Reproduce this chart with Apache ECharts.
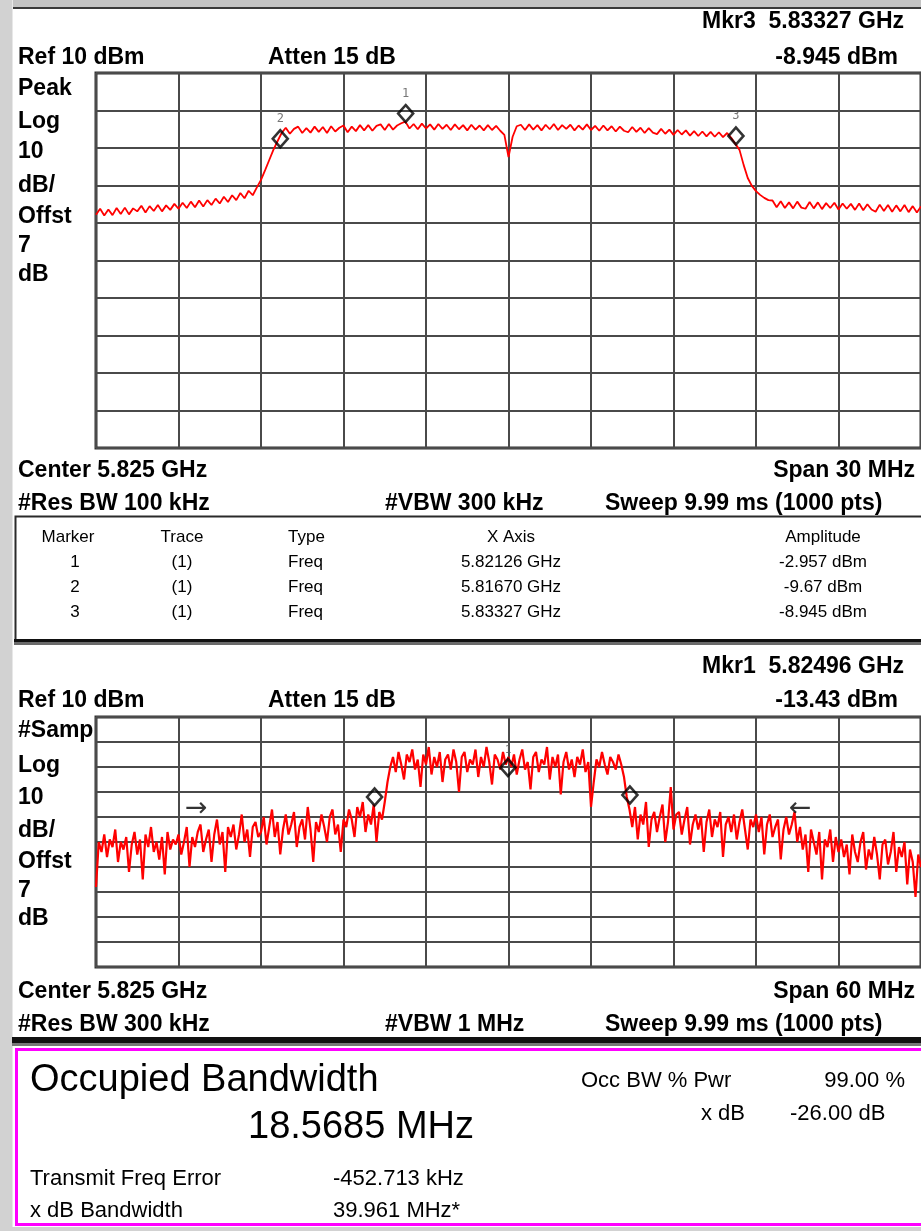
<!DOCTYPE html>
<html><head><meta charset="utf-8">
<script src="https://cdn.jsdelivr.net/npm/echarts@6/dist/echarts.min.js"></script>
<style>html,body{margin:0;padding:0;background:#fff;overflow:hidden}#c{width:921px;height:1231px}</style>
</head><body><div id="c"></div>
<script>
// ---------- DATA ----------
const CENTER_MHZ = 5825;
// upper trace: span 30 MHz, 5810..5840 MHz, step 0.15 MHz (dBm)
const TOP_START_MHZ = 5810, TOP_STEP_MHZ = 0.15;
const topTrace = [
-27.8,-26.2,-28.0,-26.4,-27.9,-26.0,-27.6,-25.9,-27.7,-26.1,
-26.9,-25.4,-27.2,-25.5,-26.8,-25.2,-26.9,-25.3,-26.5,-24.9,
-26.2,-24.6,-26.0,-24.3,-25.8,-24.0,-25.6,-23.9,-25.2,-23.5,
-24.8,-23.0,-24.4,-22.6,-23.9,-22.0,-23.4,-21.4,-22.6,
-20.5,-18.5,-15.9,-13.2,-10.5,-8.2,
-6.0,-4.6,-6.2,-4.9,-4.3,-6.0,-4.7,-5.9,-4.3,-5.7,
-4.4,-6.0,-4.2,-5.6,-4.6,-4.0,-5.8,-4.3,-5.5,-3.9,
-5.3,-3.9,-5.4,-4.1,-3.7,-5.2,-3.6,-5.1,-4.0,-3.4,
-2.96,
-4.8,-3.6,-5.0,-3.5,-4.8,-3.7,-5.1,-3.6,-4.9,
-3.8,-5.2,-3.7,-5.0,-3.9,-5.3,-3.8,-5.1,-4.0,-5.3,
-3.9,-5.2,-4.1,-5.4,-6.5,
-12.4,
-7.0,-4.2,-3.8,-5.2,
-3.7,-5.1,-3.9,-5.3,-3.8,-5.0,-3.6,-5.2,-3.9,-4.9,
-3.8,-5.3,-4.0,-5.1,-3.7,-5.2,-4.1,-5.4,-4.0,-5.3,
-4.2,-5.6,-4.3,-5.4,-5.8,-4.4,-5.7,-4.6,-6.0,-4.7,
-5.9,-6.3,-4.9,-6.2,-5.1,-6.5,-5.2,-6.4,-5.3,-6.7,
-5.5,-6.8,-5.6,-6.9,-5.7,-7.0,-5.8,-7.1,-6.0,-7.3,
-8.9,
-10.5,-14.5,-18.0,-20.1,-21.5,-22.5,-23.3,-23.9,
-24.0,-25.8,-24.2,-26.0,-24.5,-26.1,-24.3,-25.9,-26.2,-24.4,
-26.1,-24.5,-26.3,-24.7,-26.0,-24.6,-26.4,-24.8,-26.2,-24.9,
-26.5,-24.8,-26.6,-25.0,-26.4,-27.0,-25.1,-26.8,-25.2,-27.0,
-25.3,-26.9,-25.2,-27.1,-25.5,-27.2,-25.6
];
// lower trace: span 60 MHz, 5795..5855 MHz, step 0.2 MHz (dBm, sample detector)
const BOT_START_MHZ = 5795, BOT_STEP_MHZ = 0.2;
const botTrace = [
-58,
-40,-44,-37,-46,-39,-42,-35,-48,-40,-43,
-38,-52,-41,-36,-45,-39,-55,-37,-42,-34,
-44,-40,-47,-38,-53,-36,-43,-39,-41,
-37,-45,-40,-34,-50,-38,-42,-36,-33,-44,
-39,-35,-48,-37,-31,-41,-36,-52,-34,-38,
-33,-43,-37,-29,-40,-35,-46,-34,-32,-38,
-36,-30,-41,-34,-27,-38,-32,-45,-35,-29,
-37,-33,-28,-42,-34,-31,-39,-26,-35,-48,
-32,-36,-29,-34,-40,-30,-27,-37,-33,-44,
-31,
-34,-27,-31,-38,-26,-30,-24,-36,-29,-33,
-25,-40,-28,-31,
-24,-16,-10,
-6,-12,-4,-9,-15,-5,-8,-3,-11,-7,
-18,-5,-9,-2,-13,-6,-10,-4,-16,-7,
-5,-11,-3,-8,-20,-6,-4,-12,-7,-9,
-3,-14,-6,-10,-2,-8,-17,-5,-7,-11,
-4,-9,-6,
-10,-5,-13,-7,-3,-11,-8,-19,-6,-4,
-12,-7,-9,-2,-15,-6,-10,-5,-21,-8,
-4,-11,-7,-14,-6,-9,-3,-12,-8,-26,
-16,-7,-10,-4,-9,-13,-6,-8,-11,-5,
-9,
-14,-22,-27,
-34,-26,-39,-29,-33,-24,-42,-31,-28,-36,
-30,-25,-40,-32,-18,-35,-29,
-28,-37,-31,-26,-41,-33,-29,-35,-30,-44,
-32,-27,-38,-31,-34,-28,-46,-33,-30,-36,
-29,-39,-32,-27,-35,-43,-31,-34,-29,
-36,-30,-45,-33,-29,-38,-34,-31,-47,-35,
-30,-37,-33,-28,-40,
-34,-43,-37,-52,-35,-40,-45,-36,-55,-39,
-42,-35,-48,-38,-44,
-39,-46,-41,-53,-37,-44,-48,-40,-36,-51,
-43,-47,-38,-45,-55,-41,-39,-49,-44,-36,
-52,-42,-46,-40,-57,-43,-48,-62,-45,-50
];
// markers (GHz, dBm, label)
const topMarkerFreq = [5.82126, 5.81670, 5.83327];
const topMarkerAmp  = [-2.957, -9.67, -8.945];
const topMarkerName = ['1', '2', '3'];
const botMarkerFreq = [5.82496];
const botMarkerAmp  = [-13.43];
const obwEdgeFreq = [5.81526, 5.83383];
const obwEdgeAmp  = [-25.2, -24.4];
const xdbArrowFreq = [5.8023, 5.8462];
const xdbArrowAmp  = [-26.8, -26.8];
const xdbArrowText = ['\u2192', '\u2190'];
// marker table
const tableHeader = ['Marker', 'Trace', 'Type', 'X Axis', 'Amplitude'];
const tableRows = [
  ['1', '(1)', 'Freq', '5.82126 GHz', '-2.957 dBm'],
  ['2', '(1)', 'Freq', '5.81670 GHz', '-9.67 dBm'],
  ['3', '(1)', 'Freq', '5.83327 GHz', '-8.945 dBm']
];
const topLeftLabels = ['Peak', 'Log', '10', 'dB/', 'Offst', '7', 'dB'];
const botLeftLabels = ['#Samp', 'Log', '10', 'dB/', 'Offst', '7', 'dB'];

// ---------- BUILD ----------
const topData = topTrace.map((v, i) => [TOP_START_MHZ + i * TOP_STEP_MHZ - CENTER_MHZ, v]);
const botData = botTrace.map((v, i) => [BOT_START_MHZ + i * BOT_STEP_MHZ - CENTER_MHZ, v]);
const g2o = f => f * 1000 - CENTER_MHZ;

const BOLD = 'bold 23px "Liberation Sans", Arial, sans-serif';
const REG = (s) => s + 'px "Liberation Sans", Arial, sans-serif';
function T(x, y, text, font, align) {
  return { type: 'text', x: x, y: y, z: 20, silent: true,
    style: { text: text, font: font, fill: '#000', textAlign: align || 'left', align: align || 'left',
             textVerticalAlign: 'middle', verticalAlign: 'middle' } };
}
function R(x, y, w, h, fill, stroke, lw, z) {
  return { type: 'rect', z: z || 1, silent: true, shape: { x: x, y: y, width: w, height: h },
    style: { fill: fill || 'none', stroke: stroke || 'none', lineWidth: lw || 0 } };
}

const g = [];
// window chrome
g.push(R(0, 0, 921, 7, '#c4c4c4'));
g.push(R(0, 7, 921, 2, '#3a3a3a'));
g.push(R(0, 0, 12, 1231, '#d2d2d2'));
g.push(R(12, 0, 1, 1231, '#e8e8e8'));
// upper panel texts
g.push(T(904, 22, 'Mkr3  5.83327 GHz', BOLD, 'right'));
g.push(T(18, 58, 'Ref 10 dBm', BOLD));
g.push(T(268, 58, 'Atten 15 dB', BOLD));
g.push(T(898, 58, '-8.945 dBm', BOLD, 'right'));
const topLY = [89, 122, 152, 186, 217, 246, 275];
topLeftLabels.forEach((t, i) => g.push(T(18, topLY[i], t, BOLD)));
g.push(T(18, 471, 'Center 5.825 GHz', BOLD));
g.push(T(915, 471, 'Span 30 MHz', BOLD, 'right'));
g.push(T(18, 504, '#Res BW 100 kHz', BOLD));
g.push(T(385, 504, '#VBW 300 kHz', BOLD));
g.push(T(605, 504, 'Sweep 9.99 ms (1000 pts)', BOLD));
// marker table
g.push(R(15.5, 516.5, 930, 124, '#fff', '#2a2a2a', 2, 2));
g.push(R(14, 639, 907, 3, '#111', null, 0, 3));
g.push(R(14, 642, 907, 3, '#6a6a6a', null, 0, 3));
const colX = [68, 182, 288, 511, 823];
const colA = ['center', 'center', 'left', 'center', 'center'];
const TF = REG(17);
tableHeader.forEach((t, c) => g.push(T(colX[c], 537, t, TF, colA[c])));
tableRows.forEach((row, r) => row.forEach((t, c) => g.push(T(colX[c] + (c === 0 ? 7 : 0), 562 + r * 25, t, TF, colA[c]))));
// lower panel texts
g.push(T(904, 667, 'Mkr1  5.82496 GHz', BOLD, 'right'));
g.push(T(18, 701, 'Ref 10 dBm', BOLD));
g.push(T(268, 701, 'Atten 15 dB', BOLD));
g.push(T(898, 701, '-13.43 dBm', BOLD, 'right'));
const botLY = [731, 766, 798, 831, 862, 891, 919];
botLeftLabels.forEach((t, i) => g.push(T(18, botLY[i], t, BOLD)));
g.push(T(18, 992, 'Center 5.825 GHz', BOLD));
g.push(T(915, 992, 'Span 60 MHz', BOLD, 'right'));
g.push(T(18, 1025, '#Res BW 300 kHz', BOLD));
g.push(T(385, 1025, '#VBW 1 MHz', BOLD));
g.push(T(605, 1025, 'Sweep 9.99 ms (1000 pts)', BOLD));
// separator + occupied bandwidth box
g.push(R(12, 1037, 909, 6, '#111', null, 0, 3));
g.push(R(12, 1043, 909, 3, '#777', null, 0, 3));
g.push(R(16.5, 1049.5, 930, 175, '#fff', '#ff00ff', 3, 2));
g.push(R(12, 1227, 909, 4, '#d2d2d2', null, 0, 3));
g.push(T(30, 1081, 'Occupied Bandwidth', REG(38)));
g.push(T(248, 1128, '18.5685 MHz', REG(38)));
g.push(T(581, 1081, 'Occ BW % Pwr', REG(22)));
g.push(T(905, 1081, '99.00 %', REG(22), 'right'));
g.push(T(745, 1114, 'x dB', REG(22), 'right'));
g.push(T(790, 1114, '-26.00 dB', REG(22)));
g.push(T(30, 1179, 'Transmit Freq Error', REG(22)));
g.push(T(333, 1179, '-452.713 kHz', REG(22)));
g.push(T(30, 1211, 'x dB Bandwidth', REG(22)));
g.push(T(333, 1211, '39.961 MHz*', REG(22)));

const axCommon = {
  type: 'value', axisLine: { show: false }, axisTick: { show: false }, axisLabel: { show: false },
  splitLine: { show: true, lineStyle: { color: '#4a4a4a', width: 2 } }
};
const diamond = {
  type: 'scatter', symbol: 'diamond', symbolSize: [15, 17], symbolOffset: [0, -8], z: 6,
  itemStyle: { color: 'rgba(255,255,255,0)', borderColor: '#000', borderWidth: 2.6 }
};

const option = {
  animation: false,
  backgroundColor: '#ffffff',
  graphic: g,
  grid: [
    { left: 96, top: 73, width: 830, height: 375, show: true, borderColor: '#333', borderWidth: 3, backgroundColor: '#fff', z: 0 },
    { left: 96, top: 717, width: 830, height: 250, show: true, borderColor: '#333', borderWidth: 3, backgroundColor: '#fff', z: 0 }
  ],
  xAxis: [
    Object.assign({ gridIndex: 0, min: -15, max: 15, interval: 3 }, axCommon),
    Object.assign({ gridIndex: 1, min: -30, max: 30, interval: 6 }, axCommon)
  ],
  yAxis: [
    Object.assign({ gridIndex: 0, min: -90, max: 10, interval: 10 }, axCommon),
    Object.assign({ gridIndex: 1, min: -90, max: 10, interval: 10 }, axCommon)
  ],
  series: [
    { type: 'line', xAxisIndex: 0, yAxisIndex: 0, data: topData, showSymbol: false, z: 4,
      lineStyle: { color: '#ff0000', width: 1.8 } },
    Object.assign({}, diamond, { xAxisIndex: 0, yAxisIndex: 0,
      data: topMarkerFreq.map((f, i) => ({ value: [g2o(f), topMarkerAmp[i]], name: topMarkerName[i] })),
      label: { show: true, position: 'top', distance: 4, formatter: '{b}', color: '#555',
               fontSize: 12, fontFamily: '"DejaVu Sans Mono", monospace' } }),
    { type: 'line', xAxisIndex: 1, yAxisIndex: 1, data: botData, showSymbol: false, z: 4,
      lineStyle: { color: '#ff0000', width: 2.2 } },
    Object.assign({}, diamond, { xAxisIndex: 1, yAxisIndex: 1,
      data: botMarkerFreq.map((f, i) => ({ value: [g2o(f), botMarkerAmp[i]], name: '1' })),
      label: { show: true, position: 'top', distance: 2, formatter: '{b}', color: '#555',
               fontSize: 11, fontFamily: '"DejaVu Sans Mono", monospace' } }),
    Object.assign({}, diamond, { xAxisIndex: 1, yAxisIndex: 1,
      data: obwEdgeFreq.map((f, i) => [g2o(f), obwEdgeAmp[i]]) }),
    { type: 'scatter', xAxisIndex: 1, yAxisIndex: 1, symbolSize: 1, z: 7,
      itemStyle: { color: 'rgba(0,0,0,0)' },
      data: xdbArrowFreq.map((f, i) => ({ value: [g2o(f), xdbArrowAmp[i]], name: xdbArrowText[i] })),
      label: { show: true, position: 'inside', formatter: '{b}', color: '#000', fontSize: 27,
               fontFamily: '"DejaVu Sans", sans-serif' } }
  ]
};
const chart = echarts.init(document.getElementById('c'), null, { renderer: 'canvas' });
chart.setOption(option);
</script>
</body></html>
